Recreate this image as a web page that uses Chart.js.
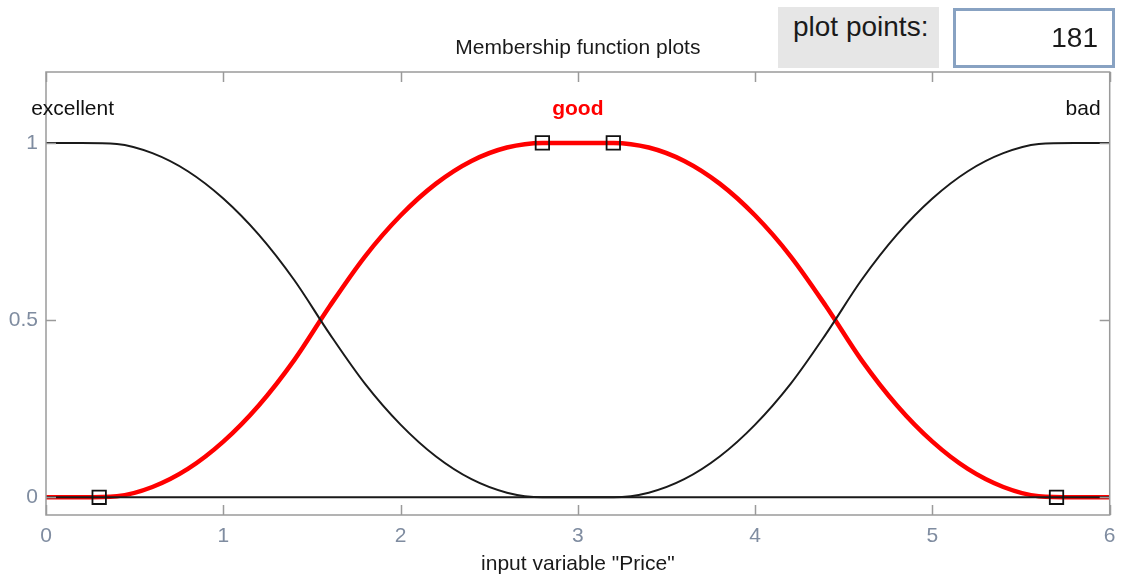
<!DOCTYPE html>
<html lang="en">
<head>
  <meta charset="UTF-8">
  <title>Membership function plots</title>
  <style>
    body { margin: 0; background: #fff; }
    #wrap { position: relative; width: 1121px; height: 579px; }
    #chart { position: absolute; left: 0; top: 0; }
    .points-label {
      position: absolute; left: 778px; top: 7px; width: 161px; height: 61px;
      background: #e6e6e6; color: #1a1a1a;
      font: 28px "Liberation Sans", Arial, sans-serif;
      box-sizing: border-box; padding: 6px 0 0 15px; line-height: 28px;
    }
    .points-box {
      position: absolute; left: 953px; top: 8px; width: 162px; height: 60px;
      box-sizing: border-box; border: 3px solid #88a2c2; background: #fff;
      font: 28px "Liberation Sans", Arial, sans-serif; color: #1a1a1a;
      text-align: right; padding: 0 14px; outline: none;
    }
  </style>
  <script src="https://cdn.jsdelivr.net/npm/chart.js"></script>
</head>
<body>
  <div id="wrap">
    <canvas id="chart" width="1121" height="579"></canvas>
    <div class="points-label">plot points:</div>
    <input class="points-box" type="text" value="181" readonly>
  </div>
  <script>
    // input variable "Price", sampled every 0.2
    const priceGrid = [0, 0.2, 0.4, 0.6, 0.8, 1, 1.2, 1.4, 1.6, 1.8, 2, 2.2, 2.4, 2.6, 2.8, 3,
      3.2, 3.4, 3.6, 3.8, 4, 4.2, 4.4, 4.6, 4.8, 5, 5.2, 5.4, 5.6, 5.8, 6];

    const excellentMu = [1, 1, 0.997, 0.971, 0.92, 0.843, 0.741, 0.613, 0.461, 0.32, 0.205, 0.115, 0.051, 0.013, 0, 0,
      0, 0, 0, 0, 0, 0, 0, 0, 0, 0, 0, 0, 0, 0, 0];
    const goodMu = [0, 0, 0.003, 0.029, 0.08, 0.157, 0.259, 0.387, 0.539, 0.68, 0.795, 0.885, 0.949, 0.987, 1, 1,
      1, 0.987, 0.949, 0.885, 0.795, 0.68, 0.539, 0.387, 0.259, 0.157, 0.08, 0.029, 0.003, 0, 0];
    const badMu = [0, 0, 0, 0, 0, 0, 0, 0, 0, 0, 0, 0, 0, 0, 0, 0,
      0, 0.013, 0.051, 0.115, 0.205, 0.32, 0.461, 0.613, 0.741, 0.843, 0.92, 0.971, 0.997, 1, 1];

    // parameters of the selected function "good" and their membership
    const goodParams = [0.3, 2.8, 3.2, 5.7];
    const goodParamMu = [0, 1, 1, 0];

    // function names, placed over the middle of each plateau
    const mfNames = ["excellent", "good", "bad"];
    const mfNameX = [0.15, 3, 5.85];
    const mfNameY = 1.08;

    const xTicks = [0, 1, 2, 3, 4, 5, 6];
    const yTicks = [0, 0.5, 1];

    const FONT = "'Liberation Sans', Arial, sans-serif";
    const TICK_COLOR = "#7f8ca0";
    const toPoints = (ys) => priceGrid.map((x, i) => ({ x, y: ys[i] }));

    // axes box with inward ticks, x tick labels, names and titles
    const framePlugin = {
      id: "frame",
      afterDraw(chart) {
        const { ctx, chartArea: a, scales } = chart;
        const x = scales.x, y = scales.y;
        ctx.save();
        ctx.strokeStyle = "#9a9a9a";
        ctx.lineWidth = 1.5;
        ctx.strokeRect(a.left, a.top, a.right - a.left, a.bottom - a.top);
        ctx.beginPath();
        xTicks.forEach((v) => {
          const px = Math.round(x.getPixelForValue(v)) + 0.5;
          ctx.moveTo(px, a.bottom); ctx.lineTo(px, a.bottom - 10);
          ctx.moveTo(px, a.top); ctx.lineTo(px, a.top + 10);
        });
        yTicks.forEach((v) => {
          const py = Math.round(y.getPixelForValue(v)) + 0.5;
          ctx.moveTo(a.left, py); ctx.lineTo(a.left + 10, py);
          ctx.moveTo(a.right, py); ctx.lineTo(a.right - 10, py);
        });
        ctx.stroke();

        ctx.font = "21px " + FONT;
        ctx.fillStyle = TICK_COLOR;
        ctx.textAlign = "center";
        ctx.textBaseline = "middle";
        xTicks.forEach((v) => ctx.fillText(String(v), x.getPixelForValue(v), a.bottom + 21));

        ctx.textBaseline = "alphabetic";
        mfNames.forEach((name, i) => {
          const selected = name === "good";
          ctx.font = (selected ? "bold " : "") + "21px " + FONT;
          ctx.fillStyle = selected ? "#ff0000" : "#111";
          ctx.fillText(name, x.getPixelForValue(mfNameX[i]), y.getPixelForValue(mfNameY));
        });

        ctx.font = "21px " + FONT;
        ctx.fillStyle = "#1a1a1a";
        ctx.textBaseline = "middle";
        const cx = (a.left + a.right) / 2;
        ctx.fillText("Membership function plots", cx, 48);
        ctx.fillText('input variable "Price"', cx, 564);
        ctx.restore();
      }
    };

    new Chart(document.getElementById("chart"), {
      type: "line",
      data: {
        datasets: [
          {
            label: "params",
            type: "scatter",
            data: goodParams.map((x, i) => ({ x, y: goodParamMu[i] })),
            pointStyle: "rect",
            pointRadius: 9.5,
            pointHoverRadius: 9.5,
            pointBorderWidth: 1.8,
            borderColor: "#111",
            backgroundColor: "rgba(0,0,0,0)",
            order: 0
          },
          {
            label: "excellent",
            data: toPoints(excellentMu),
            borderColor: "#1a1a1a",
            borderWidth: 2,
            order: 1
          },
          {
            label: "bad",
            data: toPoints(badMu),
            borderColor: "#1a1a1a",
            borderWidth: 2,
            order: 1
          },
          {
            label: "good",
            data: toPoints(goodMu),
            borderColor: "#ff0000",
            borderWidth: 4.5,
            order: 2
          }
        ]
      },
      options: {
        responsive: false,
        animation: false,
        events: [],
        layout: { padding: { top: 72, right: 8, left: 0, bottom: 0 } },
        elements: {
          line: { cubicInterpolationMode: "monotone", fill: false },
          point: { radius: 0 }
        },
        plugins: { legend: { display: false }, tooltip: { enabled: false } },
        scales: {
          x: {
            type: "linear",
            min: 0,
            max: 6,
            grid: { display: false, drawTicks: false },
            border: { display: false },
            afterBuildTicks: (s) => { s.ticks = xTicks.map((v) => ({ value: v })); },
            afterFit: (s) => { s.height = 64; },
            ticks: { display: false }
          },
          y: {
            min: -0.05,
            max: 1.2,
            grid: { display: false, drawTicks: false },
            border: { display: false },
            afterBuildTicks: (s) => { s.ticks = yTicks.map((v) => ({ value: v })); },
            afterFit: (s) => { s.width = 46; s.paddingTop = 0; s.paddingBottom = 0; },
            ticks: {
              padding: 8,
              color: TICK_COLOR,
              font: { family: FONT, size: 21 },
              callback: (v) => String(v)
            }
          }
        }
      },
      plugins: [framePlugin]
    });
  </script>
</body>
</html>
